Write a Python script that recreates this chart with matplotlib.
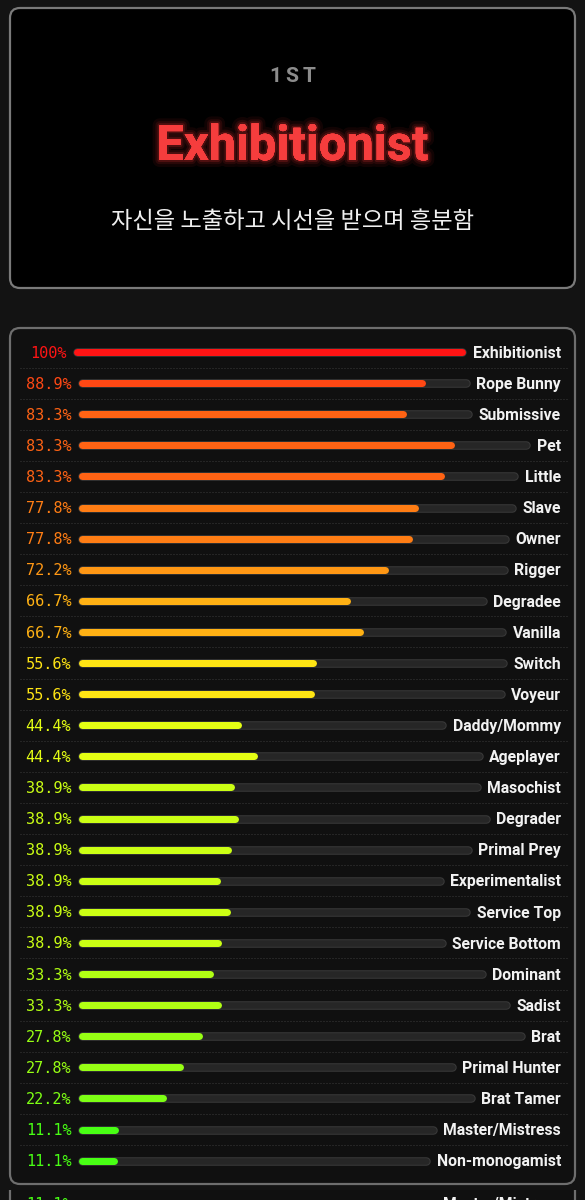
import matplotlib
matplotlib.use("Agg")
import matplotlib.pyplot as plt
from matplotlib.patches import FancyBboxPatch, Rectangle
import matplotlib.patheffects as pe
import colorsys

# ---------------- data ----------------
rank_label = "1ST"
top_title = "Exhibitionist"
top_desc = "자신을 노출하고 시선을 받으며 흥분함"

categories = [
    "Exhibitionist", "Rope Bunny", "Submissive", "Pet", "Little", "Slave",
    "Owner", "Rigger", "Degradee", "Vanilla", "Switch", "Voyeur",
    "Daddy/Mommy", "Ageplayer", "Masochist", "Degrader", "Primal Prey",
    "Experimentalist", "Service Top", "Service Bottom", "Dominant", "Sadist",
    "Brat", "Primal Hunter", "Brat Tamer", "Master/Mistress", "Non-monogamist",
]
values = [
    100, 88.9, 83.3, 83.3, 83.3, 77.8,
    77.8, 72.2, 66.7, 66.7, 55.6, 55.6,
    44.4, 44.4, 38.9, 38.9, 38.9,
    38.9, 38.9, 38.9, 33.3, 33.3,
    27.8, 27.8, 22.2, 11.1, 11.1,
]
# row of the next (cut-off) panel at the bottom edge
partial_categories = ["Master/Mistress"]
partial_values = [11.1]

# ---------------- setup ----------------
W, H = 585, 1200
fig = plt.figure(figsize=(W / 100, H / 100), dpi=100)
fig.patch.set_facecolor("#131313")
ax = fig.add_axes([0, 0, 1, 1])
ax.set_xlim(0, W)
ax.set_ylim(H, 0)
ax.axis("off")
renderer = fig.canvas.get_renderer()


def pt(px):
    return px * 0.72


def color_for(v):
    hue = (100 - v) / 100 * 120 / 360
    r, g, b = colorsys.hls_to_rgb(hue, 0.54, 1.0)
    return (r, g, b)


def xextent(t):
    bb = t.get_window_extent(renderer)
    return bb.x0, bb.x1


# ---------------- top card ----------------
ax.add_patch(FancyBboxPatch((10, 8), 565, 280,
                            boxstyle="round,pad=0,rounding_size=10",
                            fc="#000000", ec="#7a7a7a", lw=pt(2.2), zorder=1))

# "1ST" with letter spacing
spacing = 4.5
chars = []
for ch in rank_label:
    t = ax.text(0, 82, ch, fontsize=pt(21), family="Roboto", weight="bold",
                color="#8c8c8c", ha="left", va="baseline", zorder=3)
    chars.append(t)
widths = [xextent(t)[1] - xextent(t)[0] for t in chars]
total = sum(widths) + spacing * (len(chars) - 1)
x = W / 2 - total / 2
for t, w in zip(chars, widths):
    t.set_x(x)
    x += w + spacing

glow = (1.0, 0.22, 0.22)
ax.text(W / 2, 160, top_title, fontsize=pt(48.8), family="Roboto", weight="bold",
        color="#f53d3d", ha="center", va="baseline", zorder=3,
        path_effects=[pe.withStroke(linewidth=10, foreground=glow + (0.07,)),
                      pe.withStroke(linewidth=6, foreground=glow + (0.1,)),
                      pe.withStroke(linewidth=3, foreground=glow + (0.18,)),
                      pe.Normal()])

ax.text(W / 2, 221, top_desc, fontsize=pt(23.3),
        family=["Noto Sans CJK KR", "DejaVu Sans"], color="#f0f0f0",
        ha="center", va="center", zorder=3)

# ---------------- list card ----------------
ax.add_patch(FancyBboxPatch((10, 328), 565, 856,
                            boxstyle="round,pad=0,rounding_size=10",
                            fc="#101010", ec="#6e6e6e", lw=pt(2.2), zorder=1))

y0, dy = 352, 31.1
bar_px = 7
r = bar_px / 2


def draw_row(y, name, v):
    c = color_for(v)
    tp = ax.text(48.5, y + 5.6, f"{v:g}%", fontsize=pt(15.3),
                 family="DejaVu Sans Mono", color=c, ha="center",
                 va="baseline", zorder=3)
    tl = ax.text(561, y + 5.7, name, fontsize=pt(15.8), family="Roboto",
                 weight="bold", color="#f2f2f2", ha="right", va="baseline",
                 zorder=3)
    start = xextent(tp)[1] + 7
    end = xextent(tl)[0] - 7
    fill_end = start + v / 100 * (end - start)
    ax.hlines(y, start + r, end - r, colors="#3a3a3a", lw=pt(bar_px + 1.5),
              capstyle="round", zorder=2)
    ax.hlines(y, start + r, end - r, colors="#262626", lw=pt(bar_px - 0.5),
              capstyle="round", zorder=2)
    ax.hlines(y, start + r, max(fill_end - r, start + r), colors=[c],
              lw=pt(bar_px), capstyle="round", zorder=2.5)


for i, (name, v) in enumerate(zip(categories, values)):
    y = y0 + i * dy
    draw_row(y, name, v)
    if i < len(categories) - 1:
        ax.hlines(y + dy / 2, 20, 567, colors="#3a3a3a",
                  linestyles=(0, (1, 2)), lw=pt(1), zorder=1.5)

# ---------------- cut-off next panel (as in the reference) ----------------
ax.add_patch(Rectangle((10, 1190), 565, 20, fc="#101010", ec="none", zorder=1))
ax.vlines([10, 575], 1190, 1205, colors="#6e6e6e", lw=pt(2.2), zorder=1.2)
for name, v in zip(partial_categories, partial_values):
    draw_row(1203.5, name, v)

fig.savefig("out.png", dpi=100, facecolor=fig.get_facecolor())
